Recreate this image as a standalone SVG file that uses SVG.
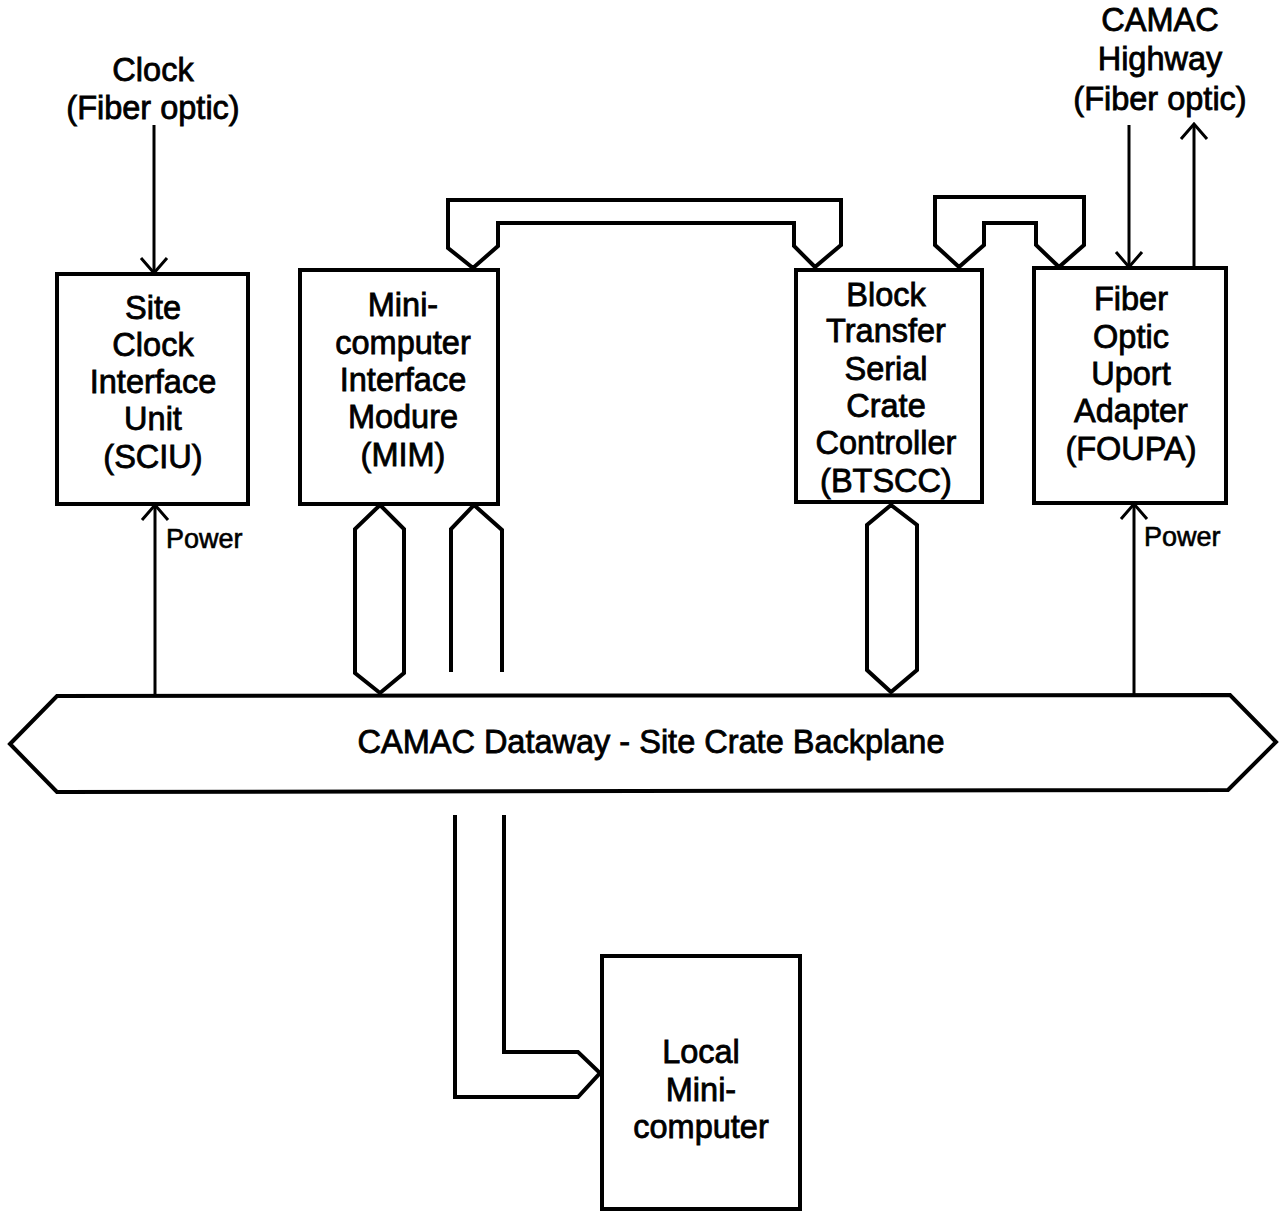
<svg xmlns="http://www.w3.org/2000/svg" width="1281" height="1213" viewBox="0 0 1281 1213">
<style>
.box{fill:#fff;stroke:#000;stroke-width:4}
.bus{fill:none;stroke:#000;stroke-width:4;stroke-linejoin:miter}
.ln{fill:none;stroke:#000;stroke-width:3}
text{font-family:"Liberation Sans",Arial,sans-serif;font-size:32.5px;fill:#000;stroke:#000;stroke-width:0.8;text-anchor:middle}
.sm{font-size:27px;text-anchor:start;stroke-width:0.6}
</style>
<defs>
<marker id="arr" viewBox="-18 -16 20 32" refX="0" refY="0" markerWidth="20" markerHeight="32" markerUnits="userSpaceOnUse" orient="auto">
<path d="M-15,-13 L0,0 L-15,13" fill="none" stroke="#000" stroke-width="3"/>
</marker>
</defs>
<rect width="1281" height="1213" fill="#fff"/>
<g id="connectors">
<path class="bus" d="M473,268 L448,248 L448,200 L841,200 L841,245 L815,267 L794,246 L794,223 L498,223 L498,246 Z"/>
<path class="bus" d="M959,267 L935,245 L935,197 L1084,197 L1084,245 L1059,267 L1036,245 L1036,223 L984,223 L984,245 Z"/>
<path class="bus" d="M380,505 L404,529 L404,673 L380,693 L355,673 L355,529 Z"/>
<path class="bus" d="M451,672 L451,529 L474,505 L502,530 L502,672"/>
<path class="bus" d="M891,505 L917,525 L917,670 L891,692 L867,670 L867,525 Z"/>
<path class="bus" d="M455,815 L455,1097 L578,1097 L600,1073 L578,1052 L504,1052 L504,815"/>
<line class="ln" x1="155" y1="695" x2="155" y2="505" marker-end="url(#arr)"/>
<line class="ln" x1="1134" y1="694" x2="1134" y2="504" marker-end="url(#arr)"/>
<line class="ln" x1="154" y1="125" x2="154" y2="273" marker-end="url(#arr)"/>
<line class="ln" x1="1129" y1="125" x2="1129" y2="267" marker-end="url(#arr)"/>
<line class="ln" x1="1194" y1="268" x2="1194" y2="124" marker-end="url(#arr)"/>
</g>
<g id="clock-label">
<text x="153" y="81">Clock</text>
<text x="153" y="119">(Fiber optic)</text>
</g>
<g id="highway-label">
<text x="1160" y="31">CAMAC</text>
<text x="1160" y="70">Highway</text>
<text x="1160" y="110">(Fiber optic)</text>
</g>
<g id="sciu">
<rect class="box" x="57" y="274" width="191" height="230"/>
<text x="153" y="319">Site</text>
<text x="153" y="356">Clock</text>
<text x="153" y="393">Interface</text>
<text x="153" y="430">Unit</text>
<text x="153" y="468">(SCIU)</text>
</g>
<g id="mim">
<rect class="box" x="300" y="270" width="198" height="234"/>
<text x="403" y="316">Mini-</text>
<text x="403" y="354">computer</text>
<text x="403" y="391">Interface</text>
<text x="403" y="428">Modure</text>
<text x="403" y="466">(MIM)</text>
</g>
<g id="btscc">
<rect class="box" x="796" y="270" width="186" height="232"/>
<text x="886" y="306">Block</text>
<text x="886" y="342">Transfer</text>
<text x="886" y="380">Serial</text>
<text x="886" y="417">Crate</text>
<text x="886" y="454">Controller</text>
<text x="886" y="492">(BTSCC)</text>
</g>
<g id="foupa">
<rect class="box" x="1034" y="268" width="192" height="235"/>
<text x="1131" y="310">Fiber</text>
<text x="1131" y="348">Optic</text>
<text x="1131" y="385">Uport</text>
<text x="1131" y="422">Adapter</text>
<text x="1131" y="460">(FOUPA)</text>
</g>
<g id="backplane">
<path class="box" d="M10,744 L57,696 L1230,695 L1276,742 L1228,790 L57,792 Z"/>
<text x="651" y="753">CAMAC Dataway - Site Crate Backplane</text>
</g>
<g id="local">
<rect class="box" x="602" y="956" width="198" height="253"/>
<text x="701" y="1063">Local</text>
<text x="701" y="1101">Mini-</text>
<text x="701" y="1138">computer</text>
</g>
<g id="power-labels">
<text class="sm" x="166" y="548">Power</text>
<text class="sm" x="1144" y="546">Power</text>
</g>
</svg>
